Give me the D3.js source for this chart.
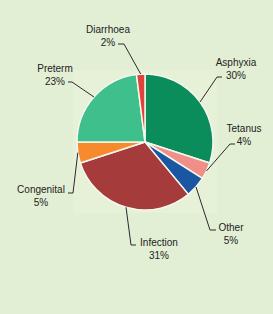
<!DOCTYPE html>
<html>
<head>
<meta charset="utf-8">
<script src="https://cdn.jsdelivr.net/npm/d3@7"></script>
<style>
  body { margin: 0; background: #e3efd4; }
</style>
</head>
<body>
<div id="chart"></div>
<script>
// data
const causes = ["Asphyxia", "Tetanus", "Other", "Infection", "Congenital", "Preterm", "Diarrhoea"];
const shares = [30, 4, 5, 31, 5, 23, 2];
const colours = ["#0b8c5b", "#f08e88", "#1a56a2", "#a63b3b", "#f78a2c", "#3fbf8c", "#e0433b"];

// label layout: text centre, elbow and end of the leader line
const labelLayout = [
  { tx: 236, ty: 62, elbow: [217, 77], end: [222, 77] },
  { tx: 244, ty: 128, elbow: [230, 144], end: [235, 144] },
  { tx: 231, ty: 227, elbow: [210, 230], end: [216, 230] },
  { tx: 159, ty: 242, elbow: [131, 245], end: [136, 245] },
  { tx: 41, ty: 189, elbow: [73, 193], end: [68, 193] },
  { tx: 55, ty: 68, elbow: [72, 82], end: [68, 82] },
  { tx: 108, ty: 29, elbow: [124, 44], end: [118, 44] }
];

const width = 273;
const height = 314;
const cx = 145;
const cy = 142;
const radius = 68;

const svg = d3.create("svg").attr("width", width).attr("height", height);

svg.append("rect").attr("width", width).attr("height", height).attr("fill", "#e3efd4");
// faint lighter panel behind the pie
svg.append("rect")
  .attr("x", cx - 72).attr("y", cy - 72)
  .attr("width", 144).attr("height", 143)
  .attr("fill", "#e6f1d8");

const pie = d3.pie().sort(null).value((d) => d.value);
const slices = pie(causes.map((c, i) => ({ name: c, value: shares[i], colour: colours[i], lay: labelLayout[i] })));

const arc = d3.arc().innerRadius(0).outerRadius(radius);
const edge = d3.arc().innerRadius(radius).outerRadius(radius);

const g = svg.append("g").attr("transform", `translate(${cx},${cy})`);

g.selectAll("path")
  .data(slices)
  .join("path")
  .attr("d", arc)
  .attr("fill", (d) => d.data.colour)
  .attr("stroke", "#f4f8ee")
  .attr("stroke-width", 1.5);

// leader lines
svg.append("g")
  .selectAll("polyline")
  .data(slices)
  .join("polyline")
  .attr("points", (d) => {
    const [x, y] = edge.centroid(d);
    return [[cx + x, cy + y], d.data.lay.elbow, d.data.lay.end].map((p) => p.join(",")).join(" ");
  })
  .attr("fill", "none")
  .attr("stroke", "#2a2a2a")
  .attr("stroke-width", 1);

const labels = svg.append("g")
  .attr("font-family", "Liberation Sans, Arial, sans-serif")
  .attr("font-size", 10)
  .attr("fill", "#222")
  .attr("text-anchor", "middle");

slices.forEach((d) => {
  const t = labels.append("text").attr("x", d.data.lay.tx).attr("y", d.data.lay.ty + 4);
  t.append("tspan").attr("x", d.data.lay.tx).text(d.data.name);
  t.append("tspan").attr("x", d.data.lay.tx).attr("dy", 12.5).text(d.data.value + "%");
});

d3.select("#chart").node().appendChild(svg.node());
</script>
</body>
</html>
